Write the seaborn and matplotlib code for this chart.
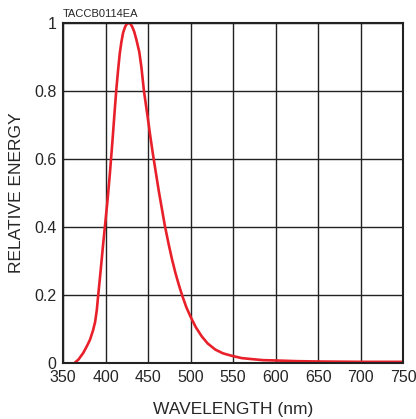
import numpy as np
import pandas as pd
import matplotlib
matplotlib.use('Agg')
import matplotlib.pyplot as plt
import seaborn as sns

# spectral curve
wavelength = [363.5, 368, 373.5, 378, 381.5, 385, 387.5, 389.5, 391, 393, 395, 397,
              399, 402, 405, 408, 410.5, 412.5, 414.5, 416.5, 418.5, 420.5, 423, 425,
              427, 429, 431, 433.5, 436, 439.5, 442, 445, 449, 452, 455.5, 459, 462.5,
              466, 469.5, 474, 478, 482, 486, 490, 495, 500, 506, 513, 520, 529, 538,
              548, 560, 572, 585, 600, 625, 650, 700, 750]
energy = [0.0, 0.01, 0.029, 0.05, 0.068, 0.095, 0.12, 0.155, 0.195, 0.245, 0.297, 0.35,
          0.4, 0.475, 0.56, 0.655, 0.74, 0.805, 0.86, 0.91, 0.945, 0.972, 0.99, 0.998,
          1.0, 0.998, 0.99, 0.975, 0.952, 0.915, 0.87, 0.8, 0.73, 0.675, 0.615, 0.56, 0.505,
          0.455, 0.405, 0.35, 0.305, 0.265, 0.23, 0.198, 0.163, 0.135, 0.105, 0.078, 0.057,
          0.039, 0.028, 0.021, 0.014, 0.011, 0.008, 0.007, 0.005, 0.004, 0.003, 0.003]
xticks = [350, 400, 450, 500, 550, 600, 650, 700, 750]
yticks = [0, 0.2, 0.4, 0.6, 0.8, 1]
ylabels = ['0', '0.2', '0.4', '0.6', '0.8', '1']

df = pd.DataFrame({'wl': wavelength, 'e': energy})

sns.set_style('white')
plt.rcParams['font.family'] = ['Liberation Sans', 'DejaVu Sans']

fig = plt.figure(figsize=(4.16, 4.19), dpi=100)
ax = fig.add_axes([0.152, 0.134, 0.817, 0.811])

sns.lineplot(data=df, x='wl', y='e', color='#e8202a', linewidth=1.9, ax=ax)

ax.set_xlim(350, 750)
ax.set_ylim(0, 1)
ax.set_xticks(xticks)
ax.set_yticks(yticks)
ax.set_yticklabels(ylabels)
ax.tick_params(axis='x', length=0, labelsize=11.5, pad=5.5)
ax.tick_params(axis='y', length=0, labelsize=11.5, pad=5)
ax.grid(True, color='#222222', linewidth=1.0)
ax.set_axisbelow(True)
for s in ax.spines.values():
    s.set_color('#222222')
    s.set_linewidth(1.5)

ax.set_xlabel('WAVELENGTH (nm)', fontsize=12.5, labelpad=12)
ax.set_ylabel('RELATIVE ENERGY', fontsize=12.5, labelpad=7)
ax.text(0.0, 1.012, 'TACCB0114EA', transform=ax.transAxes, fontsize=8,
        ha='left', va='bottom')

fig.savefig('out.png', dpi=100)
